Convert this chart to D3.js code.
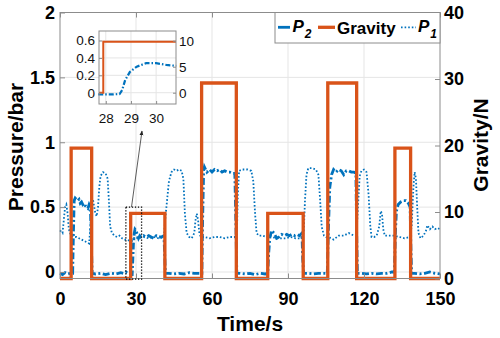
<!DOCTYPE html>
<html>
<head>
<meta charset="utf-8">
<script src="https://cdn.jsdelivr.net/npm/d3@7"></script>
<style>
  body { margin: 0; background: #fff; }
  svg { display: block; font-family: "Liberation Sans", Arial, sans-serif; }
</style>
</head>
<body>
<div id="chart-area"></div>
<script>
// Data
// gravity load pulses (s, s, N)
const pulseStart = [4.4, 27.9, 55.9, 82.0, 105.7, 132.2]
const pulseEnd = [12.5, 41.4, 69.6, 96.0, 117.1, 138.4]
const pulseLoad = [19.6, 9.8, 29.4, 9.8, 29.4, 19.6]

// P2 (dash-dot) time / pressure
const p2Time = [0, 1, 2, 3, 4, 5, 5.3, 5.6, 6, 6.5, 7, 7.5, 8, 8.5, 9, 9.5, 10, 10.5, 11, 11.5, 12, 12.4, 12.7,
  14, 16, 18, 20, 22, 24, 25, 26, 27, 28, 28.5, 28.8, 29, 29.3, 29.6, 30, 30.5, 31, 31.5, 32, 33, 34, 35, 36, 37, 38, 39, 40, 41, 41.3, 41.6,
  43, 45, 47, 49, 51, 53, 55, 56, 56.3, 56.7, 57, 57.5, 58, 59, 60, 61, 62, 63, 64, 65, 66, 67, 68, 69, 69.4, 69.8,
  71, 73, 75, 77, 79, 81, 82, 82.4, 82.8, 83.5, 84.5, 85.5, 86.5, 87.5, 88.5, 89.5, 90.5, 91.5, 92.5, 93.5, 94.5, 95.5, 95.8, 96.2,
  98, 100, 102, 104, 105.5, 105.9, 106.5, 107.2, 108, 109, 110, 111, 112, 113, 114, 115, 116, 116.8, 117.1, 117.4,
  119, 121, 123, 125, 127, 129, 131, 132, 132.4, 132.8, 133.5, 134.5, 135.5, 136.5, 137.5, 138.2, 138.5, 138.8,
  140, 142, 144, 146, 148, 150]
const p2Value = [-0.01, -0.02, -0.005, -0.015, -0.01, -0.01, 0.3, 0.55, 0.57, 0.56, 0.55, 0.56, 0.53, 0.54, 0.52, 0.53, 0.51, 0.5, 0.49, 0.52, 0.5, 0.2, -0.01,
  -0.015, -0.01, -0.02, -0.01, -0.015, -0.005, -0.01, 0.0, -0.01, -0.02, -0.02, 0.12, 0.22, 0.3, 0.33, 0.32, 0.29, 0.26, 0.28, 0.27, 0.28, 0.27, 0.28, 0.27, 0.26, 0.28, 0.27, 0.27, 0.28, 0.15, -0.01,
  -0.01, -0.015, -0.01, -0.015, -0.005, -0.01, -0.01, -0.01, 0.4, 0.78, 0.81, 0.79, 0.77, 0.79, 0.77, 0.79, 0.78, 0.79, 0.77, 0.78, 0.77, 0.77, 0.76, 0.76, 0.4, -0.01,
  -0.01, -0.015, -0.01, -0.02, -0.01, -0.015, -0.01, 0.15, 0.26, 0.32, 0.3, 0.26, 0.27, 0.29, 0.28, 0.29, 0.28, 0.29, 0.28, 0.29, 0.28, 0.3, 0.1, -0.01,
  -0.01, -0.015, -0.01, -0.01, -0.01, 0.3, 0.65, 0.75, 0.79, 0.77, 0.79, 0.78, 0.75, 0.78, 0.78, 0.77, 0.77, 0.76, 0.3, -0.01,
  -0.01, -0.015, -0.01, -0.015, -0.01, -0.01, 0.0, 0.0, 0.3, 0.47, 0.52, 0.54, 0.55, 0.55, 0.53, 0.5, 0.2, -0.01,
  -0.01, -0.015, -0.01, 0.0, -0.01, -0.015]

// P1 (dotted) time / pressure
const p1Time = [0, 1, 1.5, 2, 2.5, 3, 3.5, 4, 4.5, 5.5, 6.5, 7.5, 8.5, 9.5, 10.5, 11.5, 12, 12.5, 13, 13.5, 14, 14.5, 15, 15.5, 16, 17, 18, 18.8, 19.3, 19.8,
  20.5, 21.5, 22.5, 23.5, 24.5, 25.5, 26.5, 27.5, 28.5, 29.5, 31, 33, 35, 37, 39, 41, 41.5, 42, 43, 44, 45, 46, 47, 48, 48.7, 49.3, 50,
  51, 52, 53, 53.5, 54, 54.5, 55, 55.6, 57, 59, 61, 63, 65, 67, 69, 69.8, 70.2, 70.7, 72, 74, 75.5, 76.3, 77, 77.6,
  78.5, 80, 81.5, 83, 85, 87, 89, 91, 93, 95, 96.2, 96.7, 97.3, 98, 99.5, 101, 102, 102.7, 103.3, 104.2,
  105, 106, 108, 110, 112, 114, 116, 117, 117.6, 118.3, 119, 120, 121, 121.8, 122.5, 123, 124, 125, 126, 126.6, 127.1, 127.6, 128.2,
  130, 132, 134, 136, 138, 138.8, 139.5, 140, 140.5, 141, 141.5, 142.3, 143.5, 144.5, 145, 146, 147, 148, 149, 150]
const p1Value = [0.32, 0.3, 0.4, 0.5, 0.52, 0.45, 0.33, 0.3, 0.28, 0.27, 0.27, 0.26, 0.25, 0.24, 0.23, 0.22, 0.35, 0.55, 0.56, 0.5, 0.45, 0.43, 0.5, 0.65, 0.74, 0.77, 0.76, 0.72, 0.55, 0.35,
  0.3, 0.28, 0.27, 0.28, 0.26, 0.25, 0.25, 0.24, 0.24, 0.27, 0.26, 0.27, 0.26, 0.27, 0.26, 0.27, 0.4, 0.5, 0.7, 0.77, 0.79, 0.78, 0.79, 0.78, 0.72, 0.45, 0.3,
  0.27, 0.26, 0.3, 0.4, 0.45, 0.4, 0.3, 0.27, 0.27, 0.26, 0.27, 0.27, 0.26, 0.27, 0.27, 0.28, 0.6, 0.78, 0.79, 0.79, 0.78, 0.7, 0.45, 0.3,
  0.28, 0.28, 0.27, 0.28, 0.26, 0.26, 0.26, 0.27, 0.26, 0.26, 0.3, 0.55, 0.75, 0.8, 0.8, 0.79, 0.75, 0.55, 0.35, 0.28,
  0.27, 0.27, 0.25, 0.28, 0.28, 0.3, 0.28, 0.28, 0.5, 0.74, 0.78, 0.79, 0.77, 0.6, 0.35, 0.27, 0.27, 0.28, 0.35, 0.47, 0.45, 0.33, 0.28,
  0.28, 0.28, 0.27, 0.26, 0.27, 0.35, 0.65, 0.77, 0.72, 0.5, 0.3, 0.26, 0.28, 0.32, 0.36, 0.33, 0.35, 0.33, 0.34, 0.33]

// inset (zoom of the 2nd pulse start)
const insetTime = [27.7, 28.0, 28.3, 28.55, 28.65, 28.77, 28.96, 29.23, 29.6, 30.0, 30.4, 30.75, 30.8]
const insetValue = [-0.02, -0.02, -0.02, -0.015, 0.03, 0.146, 0.24, 0.3, 0.34, 0.34, 0.32, 0.31, 0.31]
const insetStep = 27.9

const xTicks = [0, 30, 60, 90, 120, 150]
const yTicks = [0, 0.5, 1, 1.5, 2]
const gTicks = [0, 10, 20, 30, 40]
const insetXTicks = [28, 29, 30]
const insetYTicks = [0, 0.2, 0.4, 0.6]
const insetGTicks = [0, 5, 10]

const BLUE = "#0072BD"
const ORANGE = "#D95319"
const BOX = "#8c8c8c"
const GRID = "#e5e5e5"

const PLOT = { LEFT: 60, RIGHT: 440, TOP: 12.5, BOTTOM: 278.5 }

const svg = d3.select("#chart-area").append("svg")
  .attr("width", 500)
  .attr("height", 338)

// Scales
const x = d3.scaleLinear().domain([0, 150]).range([PLOT.LEFT, PLOT.RIGHT])
const y = d3.scaleLinear().domain([-0.05, 2]).range([PLOT.BOTTOM, PLOT.TOP])
const yG = d3.scaleLinear().domain([0, 40]).range([PLOT.BOTTOM, PLOT.TOP])

// grid
const grid = svg.append("g")
grid.selectAll(".vg").data(xTicks.slice(1, -1)).enter().append("line")
  .attr("x1", d => x(d)).attr("x2", d => x(d))
  .attr("y1", PLOT.TOP).attr("y2", PLOT.BOTTOM)
  .attr("stroke", GRID)
grid.selectAll(".hg").data(yTicks.slice(0, -1)).enter().append("line")
  .attr("x1", PLOT.LEFT).attr("x2", PLOT.RIGHT)
  .attr("y1", d => y(d)).attr("y2", d => y(d))
  .attr("stroke", GRID)

// step data for gravity
const gravPts = [[0, 0]]
pulseStart.forEach((s, i) => {
  gravPts.push([s, 0], [s, pulseLoad[i]], [pulseEnd[i], pulseLoad[i]], [pulseEnd[i], 0])
})
gravPts.push([150, 0])

const pLine = d3.line().x(d => x(d[0])).y(d => y(d[1]))
svg.append("path")
  .attr("d", pLine(p1Time.map((t, i) => [t, p1Value[i]])))
  .attr("fill", "none")
  .attr("stroke", BLUE)
  .attr("stroke-width", 1.8)
  .attr("stroke-dasharray", "1.6,2")

svg.append("path")
  .attr("d", pLine(p2Time.map((t, i) => [t, p2Value[i]])))
  .attr("fill", "none")
  .attr("stroke", BLUE)
  .attr("stroke-width", 2.8)
  .attr("stroke-dasharray", "7,2.5,2,2.5")

const gLine = d3.line().x(d => x(d[0])).y(d => yG(d[1]))
svg.append("path")
  .attr("d", gLine(gravPts))
  .attr("fill", "none")
  .attr("stroke", ORANGE)
  .attr("stroke-width", 3.3)
  .attr("stroke-linejoin", "miter")

// Axes
function styleAxis(sel, size) {
  sel.select(".domain").remove()
  sel.selectAll(".tick line").attr("stroke", BOX)
  sel.selectAll("text")
    .attr("font-family", "Liberation Sans, Arial, sans-serif")
    .attr("font-size", size)
    .attr("font-weight", "bold")
    .attr("fill", "#000")
}

const xAxisCall = d3.axisBottom(x).tickValues(xTicks).tickSize(-5).tickPadding(14)
svg.append("g")
  .attr("transform", `translate(0, ${PLOT.BOTTOM})`)
  .call(xAxisCall)
  .call(s => styleAxis(s, 18))
svg.append("g")
  .attr("transform", `translate(0, ${PLOT.TOP})`)
  .call(d3.axisTop(x).tickValues(xTicks).tickSize(-5).tickFormat(""))
  .call(s => styleAxis(s, 18))

const yAxisCall = d3.axisLeft(y).tickValues(yTicks).tickSize(-5).tickPadding(5).tickFormat(d3.format("~g"))
svg.append("g")
  .attr("transform", `translate(${PLOT.LEFT}, 0)`)
  .call(yAxisCall)
  .call(s => styleAxis(s, 18))

const gAxisCall = d3.axisRight(yG).tickValues(gTicks).tickSize(-5).tickPadding(4)
svg.append("g")
  .attr("transform", `translate(${PLOT.RIGHT}, 0)`)
  .call(gAxisCall)
  .call(s => styleAxis(s, 18))

svg.append("rect")
  .attr("x", PLOT.LEFT).attr("y", PLOT.TOP)
  .attr("width", PLOT.RIGHT - PLOT.LEFT).attr("height", PLOT.BOTTOM - PLOT.TOP)
  .attr("fill", "none").attr("stroke", BOX)

// Labels
svg.append("text")
  .attr("x", 250).attr("y", 331)
  .attr("text-anchor", "middle")
  .attr("font-size", "21px").attr("font-weight", "bold")
  .text("Time/s")
svg.append("text")
  .attr("transform", "translate(23, 147) rotate(-90)")
  .attr("text-anchor", "middle")
  .attr("font-size", "21px").attr("font-weight", "bold")
  .text("Pressure/bar")
svg.append("text")
  .attr("transform", "translate(488, 145) rotate(-90)")
  .attr("text-anchor", "middle")
  .attr("font-size", "21px").attr("font-weight", "bold")
  .text("Gravity/N")

// zoom marker and arrow
svg.append("rect")
  .attr("x", x(26)).attr("y", y(0.5))
  .attr("width", x(32.2) - x(26)).attr("height", y(-0.055) - y(0.5))
  .attr("fill", "none").attr("stroke", "#000")
  .attr("stroke-width", 1.3).attr("stroke-dasharray", "1.3,1.7")

svg.append("defs").append("marker")
  .attr("id", "arr").attr("viewBox", "0 0 10 10")
  .attr("refX", 9).attr("refY", 5)
  .attr("markerWidth", 6).attr("markerHeight", 6)
  .attr("orient", "auto")
  .append("path").attr("d", "M0,1 L10,5 L0,9 Z").attr("fill", "#222")
svg.append("line")
  .attr("x1", 131.5).attr("y1", 207)
  .attr("x2", 142).attr("y2", 131)
  .attr("stroke", "#333").attr("stroke-width", 0.8)
  .attr("marker-end", "url(#arr)")

// Inset
const IN = { LEFT: 99, RIGHT: 176, TOP: 31, BOTTOM: 104 }
const ix = d3.scaleLinear().domain([27.73, 30.79]).range([IN.LEFT, IN.RIGHT])
const iy = d3.scaleLinear().domain([-0.13, 0.71]).range([IN.BOTTOM, IN.TOP])
const iyG = d3.scaleLinear().domain([-2.17, 11.87]).range([IN.BOTTOM, IN.TOP])

const inset = svg.append("g")
inset.append("rect")
  .attr("x", IN.LEFT).attr("y", IN.TOP)
  .attr("width", IN.RIGHT - IN.LEFT).attr("height", IN.BOTTOM - IN.TOP)
  .attr("fill", "#fff")
inset.selectAll(".ivg").data(insetXTicks).enter().append("line")
  .attr("x1", d => ix(d)).attr("x2", d => ix(d))
  .attr("y1", IN.TOP).attr("y2", IN.BOTTOM).attr("stroke", GRID)
inset.selectAll(".ihg").data(insetYTicks).enter().append("line")
  .attr("x1", IN.LEFT).attr("x2", IN.RIGHT)
  .attr("y1", d => iy(d)).attr("y2", d => iy(d)).attr("stroke", GRID)

inset.append("path")
  .attr("d", d3.line().x(d => ix(d[0])).y(d => iy(d[1]))(insetTime.map((t, i) => [t, insetValue[i]])))
  .attr("fill", "none").attr("stroke", BLUE)
  .attr("stroke-width", 2.2).attr("stroke-dasharray", "5,2,1.5,2")
inset.append("path")
  .attr("d", d3.line().x(d => ix(d[0])).y(d => iyG(d[1]))([[27.73, 0], [insetStep, 0], [insetStep, 9.8], [30.79, 9.8]]))
  .attr("fill", "none").attr("stroke", ORANGE).attr("stroke-width", 2)

function styleInset(sel) {
  sel.select(".domain").remove()
  sel.selectAll(".tick line").attr("stroke", BOX)
  sel.selectAll("text")
    .attr("font-family", "Liberation Sans, Arial, sans-serif")
    .attr("font-size", 13.5)
    .attr("fill", "#111")
}
inset.append("g").attr("transform", `translate(0, ${IN.BOTTOM})`)
  .call(d3.axisBottom(ix).tickValues(insetXTicks).tickSize(-3).tickPadding(9).tickFormat(d3.format("d")))
  .call(styleInset)
inset.append("g").attr("transform", `translate(${IN.LEFT}, 0)`)
  .call(d3.axisLeft(iy).tickValues(insetYTicks).tickSize(-3).tickPadding(4).tickFormat(d3.format("~g")))
  .call(styleInset)
inset.append("g").attr("transform", `translate(${IN.RIGHT}, 0)`)
  .call(d3.axisRight(iyG).tickValues(insetGTicks).tickSize(-3).tickPadding(3))
  .call(styleInset)
inset.append("rect")
  .attr("x", IN.LEFT).attr("y", IN.TOP)
  .attr("width", IN.RIGHT - IN.LEFT).attr("height", IN.BOTTOM - IN.TOP)
  .attr("fill", "none").attr("stroke", BOX)

// Legend
const legend = svg.append("g")
legend.append("rect")
  .attr("x", 275).attr("y", PLOT.TOP)
  .attr("width", PLOT.RIGHT - 275).attr("height", 30.5)
  .attr("fill", "#fff").attr("stroke", BOX)

legend.append("line").attr("x1", 278).attr("x2", 290).attr("y1", 27.3).attr("y2", 27.3)
  .attr("stroke", BLUE).attr("stroke-width", 2.8)
legend.append("line").attr("x1", 318).attr("x2", 335).attr("y1", 27.3).attr("y2", 27.3)
  .attr("stroke", ORANGE).attr("stroke-width", 3.3)
legend.append("line").attr("x1", 401).attr("x2", 416).attr("y1", 27.3).attr("y2", 27.3)
  .attr("stroke", BLUE).attr("stroke-width", 1.8).attr("stroke-dasharray", "1.6,2")

function subLabel(xPos, sub) {
  const t = legend.append("text")
    .attr("x", xPos).attr("y", 32)
    .attr("font-size", "17px").attr("font-weight", "bold").attr("font-style", "italic")
  t.append("tspan").text("P")
  t.append("tspan").attr("dy", 6).attr("dx", 1).attr("font-size", "12px").text(sub)
}
subLabel(292.5, "2")
legend.append("text")
  .attr("x", 337).attr("y", 33.5)
  .attr("font-size", "17px").attr("font-weight", "bold")
  .text("Gravity")
subLabel(418, "1")
</script>
</body>
</html>
